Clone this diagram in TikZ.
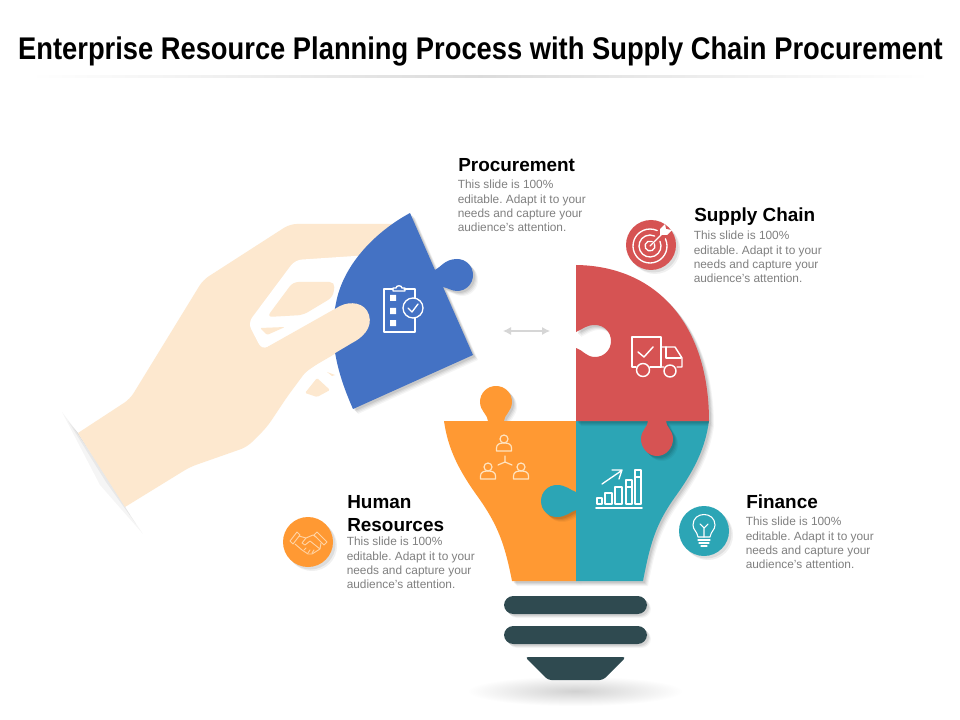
\documentclass[tikz,border=0pt]{standalone}
\usepackage{fontspec}
\setmainfont{Liberation Sans}
\frenchspacing
\usetikzlibrary{arrows.meta}
\definecolor{cred}{HTML}{D65353}
\definecolor{cteal}{HTML}{2CA5B5}
\definecolor{corange}{HTML}{FF9933}
\definecolor{cblue}{HTML}{4472C4}
\definecolor{cdark}{HTML}{2F4A50}
\definecolor{chand}{HTML}{FDE8CF}
\definecolor{cbody}{HTML}{808080}
\definecolor{ccream}{HTML}{FFE3BF}
\definecolor{cshake}{HTML}{FFD3A3}
\tikzset{
 headtext/.style={anchor=base west,inner sep=0pt,font=\fontsize{14.2pt}{17pt}\selectfont\bfseries,align=left,text=black},
 bodytext/.style={anchor=north west,inner sep=0pt,font=\fontsize{8.9pt}{10.75pt}\selectfont,align=left,text=cbody},
 icon/.style={draw=white,line width=1pt,line join=round,line cap=round},
 iconcream/.style={draw=cshake,line width=.7pt,line join=round,line cap=round},
}
\newcommand\softshadow[1]{%
 \foreach \d/\o in {5/.04,4/.05,3/.06,2/.08}{\fill[black,opacity=\o,shift={(\d,\d)}] #1;}}
\newcommand\bluepath{(410,213) -- (435,270) .. controls (441,267) and (445,259) .. (457,259) .. controls (466,259) and (473,266) .. (473,275) .. controls (473,284) and (466,291) .. (457,291) .. controls (452,291) and (448,288) .. (443,287) -- (473,355) -- (353,409) .. controls (338,375) and (328,340) .. (336,303) .. controls (343,265) and (375,232) .. (410,213) -- cycle}
\newcommand\redpath{(576,265) .. controls (657,266) and (709,325) .. (709,421) -- (666,421) .. controls (666,427) and (673,430) .. (673,439) .. controls (673,448) and (666,456) .. (657,456) .. controls (648,456) and (641,448) .. (641,439) .. controls (641,430) and (648,427) .. (648,421) -- (576,421) -- (576,348) .. controls (583,350) and (586,357) .. (595,357) .. controls (604,357) and (611,350) .. (611,341) .. controls (611,332) and (604,325) .. (595,325) .. controls (586,325) and (583,329) .. (576,332) -- cycle}
\newcommand\tealpath{(576,421) -- (709,421) .. controls (705,450) and (693,472) .. (675,497) .. controls (655,525) and (650,545) .. (643,581) -- (576,581) -- (576,510) .. controls (570,512) and (566,517) .. (557,517) .. controls (548,517) and (541,510) .. (541,501) .. controls (541,492) and (548,485) .. (557,485) .. controls (566,485) and (570,490) .. (576,492) -- cycle}
\newcommand\orangepath{(444,421) -- (488,421) .. controls (488,415) and (480,411) .. (480,402) .. controls (480,393) and (487,386) .. (496,386) .. controls (505,386) and (512,393) .. (512,402) .. controls (512,411) and (504,415) .. (504,421) -- (576,421) -- (576,581) -- (512,581) .. controls (505,545) and (498,525) .. (478,497) .. controls (460,472) and (448,450) .. (444,421) -- cycle}
\newcommand\cupPath{[rounded corners=2.5pt] (525,657) -- (626,657) -- (603,680) -- (548,680) -- cycle}
\begin{document}
\begin{tikzpicture}[x=.75pt,y=-.75pt]
\useasboundingbox (0,0) rectangle (960,720);
\fill[white] (0,0) rectangle (960,720);
% title
\node[inner sep=0pt,font=\fontsize{23.5pt}{28pt}\selectfont\bfseries] (title) at (480.5,51) {\scalebox{.872}[1]{Enterprise Resource Planning Process with Supply Chain Procurement}};
\shade[left color=white,right color=black!14] (30,76) rectangle (480,78);
\shade[left color=black!14,right color=white] (480,76) rectangle (930,78);
% wrist shadow
\fill[black,opacity=.04] (62,412) -- (78,433) -- (125,507) -- (143,534) -- (100,485) -- cycle;
\fill[black,opacity=.05] (68,421) -- (78,433) -- (125,507) -- (136,524) -- (106,482) -- cycle;
\fill[black,opacity=.06] (73,427) -- (78,433) -- (125,507) -- (130,515) -- (108,478) -- cycle;
% hand
\fill[chand] (78,433) [rounded corners=5pt] -- (130,399) -- (203,280) -- (290,224) -- (400,224) -- (400,320) -- (357,340) -- (333,355) -- (307,370) -- (287,397) -- (267,427) -- (247,447) -- (190,467) [sharp corners] -- (125,507) -- cycle;
% gap
\fill[white,rounded corners=5pt] (295,260) -- (248,323) -- (262,350) -- (345,305) -- (370,255) -- cycle;
\fill[chand,rounded corners=4pt] (293,282) -- (267,317) -- (303,315) -- (333,297) -- (335,282) -- cycle;
\fill[chand,rounded corners=1pt] (260,328) -- (285,327) -- (267,335) -- cycle;
\fill[chand,rounded corners=1pt] (305,393) -- (317,378) -- (330,390) -- (317,397) -- cycle;
\fill[chand] (327,372) -- (335,375) -- (332,376) -- cycle;
% blue piece
\softshadow{\bluepath}
\fill[cblue] \bluepath;
% thumb
\fill[chand] (262,350) -- (340,306) .. controls (350,301) and (365,302) .. (369,315) .. controls (373,328) and (362,338) .. (352,343) -- (320,362) -- (280,390) -- cycle;
% clipboard icon
\draw[icon] (393,289) -- (384,289) -- (384,332) -- (415,332) -- (415,318);
\draw[icon] (404,289) -- (415,289) -- (415,298);
\draw[icon] (393,291) -- (393,288) -- (396,288) .. controls (396,285) and (402,285) .. (402,288) -- (405,288) -- (405,291) -- cycle;
\fill[white] (390,295) rectangle (396,301) (390,308) rectangle (396,314) (390,320) rectangle (396,326);
\draw[icon] (413,308) circle (10);
\draw[icon] (408,308) -- (412,312) -- (418,304);
% orange, teal, red
\softshadow{\orangepath}
\fill[corange] \orangepath;
\softshadow{\tealpath}
\fill[cteal] \tealpath;
\softshadow{\redpath}
\fill[cred] \redpath;
% truck
\draw[icon,line width=1.1pt] (636,367) -- (632,367) -- (632,337) -- (661,337) -- (661,367) -- (650,367);
\draw[icon,line width=1.1pt] (661,347) -- (675,347) -- (682,358) -- (682,367) -- (677,367) (664,367) -- (661,367);
\draw[icon,line width=1.1pt] (666,347) -- (666,358) -- (681,358);
\draw[icon,line width=1.1pt] (643,370) circle (6.5) (670,371) circle (6);
\draw[icon,line width=1.1pt] (638,352) -- (644,357) -- (653,347);
% people
\foreach \x/\y in {504/443,488/471,521/471}{
 \draw[icon,line width=.9pt,draw=ccream] (\x,\y-4) circle (4);
 \draw[icon,line width=.9pt,draw=ccream] (\x-7.5,\y+8) -- (\x-7.5,\y+5) .. controls (\x-7.5,\y+1) and (\x-4,\y) .. (\x,\y) .. controls (\x+4,\y) and (\x+7.5,\y+1) .. (\x+7.5,\y+5) -- (\x+7.5,\y+8) -- cycle;
}
\draw[icon,line width=.9pt,draw=ccream] (505,456) -- (505,462) -- (498,465) (505,462) -- (512,465);
% chart
\draw[icon,line width=1.2pt] (596,508) -- (642,508);
\draw[icon,line width=.9pt] (597,498) rectangle (602,504) (605,493) rectangle (612,504) (615,487) rectangle (622,504) (626,480) rectangle (632,504) (635,470) rectangle (641,504) (626,487) -- (632,487) (635,477) -- (641,477);
\draw[icon] (602,484) -- (621,471) (612,470) -- (622,470) -- (619,479);
% arrow
\coordinate (ga) at (503,331);
\coordinate (gb) at (550,331);
\draw[{Latex[length=6pt,width=6pt]}-{Latex[length=6pt,width=6pt]},draw=black!16,line width=.8pt] (ga) -- (gb);
% base
\foreach \d/\o in {4/.04,3/.06,2/.08}{
 \fill[black,opacity=\o,shift={(\d,\d)},rounded corners=7pt] (504,596) rectangle (647,614);
 \fill[black,opacity=\o,shift={(\d,\d)},rounded corners=7pt] (504,626) rectangle (647,644);
}
\fill[cdark,rounded corners=7pt] (504,596) rectangle (647,614);
\fill[cdark,rounded corners=7pt] (504,626) rectangle (647,644);
\shade[inner color=black!18,outer color=white] (575,691) ellipse (108 and 15);
\fill[cdark] \cupPath;
% circles
\foreach \x/\y/\c in {651/245/cred,308/542/corange,704/531/cteal}{
 \fill[black,opacity=.06] (\x+4,\y+4) circle (25);
 \fill[black,opacity=.08] (\x+2.5,\y+2.5) circle (25);
 \fill[\c] (\x,\y) circle (25);
}
% target
\draw[icon] (650,246) ++(-25:17) arc (-25:295:17);
\draw[icon] (650,246) ++(-25:11) arc (-25:295:11);
\draw[icon] (650,246) ++(-25:5) arc (-25:295:5);
\draw[icon] (650,246) -- (662,234);
\fill[white] (660,235) -- (660,229) -- (665,224) -- (666,229) -- (672,230) -- (667,235) -- cycle;
% handshake
\draw[iconcream] (290,541) -- (297,532) -- (300,535) -- (293,544) -- cycle (327,542) -- (317,532) -- (314,535) -- (324,545) -- cycle;
\draw[iconcream] (299,536) -- (306,538) -- (313,535) -- (316,537) (306,538) -- (302,543) -- (305,545) -- (310,541) -- (320,549) -- (321,543)  (295,544) -- (302,550) -- (308,554) -- (312,554) -- (320,549);
\draw[iconcream] (304,550) -- (306,548) (308,553) -- (310,550) (312,553) -- (314,550);
% bulb
\draw[icon,line width=.8pt] (698,537) .. controls (697,531) and (693,530) .. (693,525) .. controls (693,511) and (715,511) .. (715,525) .. controls (715,530) and (711,531) .. (710,537) -- cycle;
\draw[icon,line width=.8pt] (698,540) -- (710,540) (699,543) -- (709,543) (701,546) -- (707,546);
\draw[icon,line width=.8pt] (704,537) -- (704,528) (700,524) -- (704,528) -- (708,524);
% texts
\node[headtext] (h1) at (458,172) {Procurement};
\node[bodytext] (b1) at (457.5,180) {This slide is 100\%\\editable. Adapt it to your\\needs and capture your\\audience's attention.};
\node[headtext] (h2) at (694,222) {Supply Chain};
\node[bodytext] (b2) at (693.5,231) {This slide is 100\%\\editable. Adapt it to your\\needs and capture your\\audience's attention.};
\node[headtext] (h3) at (347,508) {Human};
\node[headtext] (h3b) at (347,531) {Resources};
\node[bodytext] (b3) at (346.5,537) {This slide is 100\%\\editable. Adapt it to your\\needs and capture your\\audience's attention.};
\node[headtext] (h4) at (746,508) {Finance};
\node[bodytext] (b4) at (745.5,517) {This slide is 100\%\\editable. Adapt it to your\\needs and capture your\\audience's attention.};
\end{tikzpicture}
\end{document}
